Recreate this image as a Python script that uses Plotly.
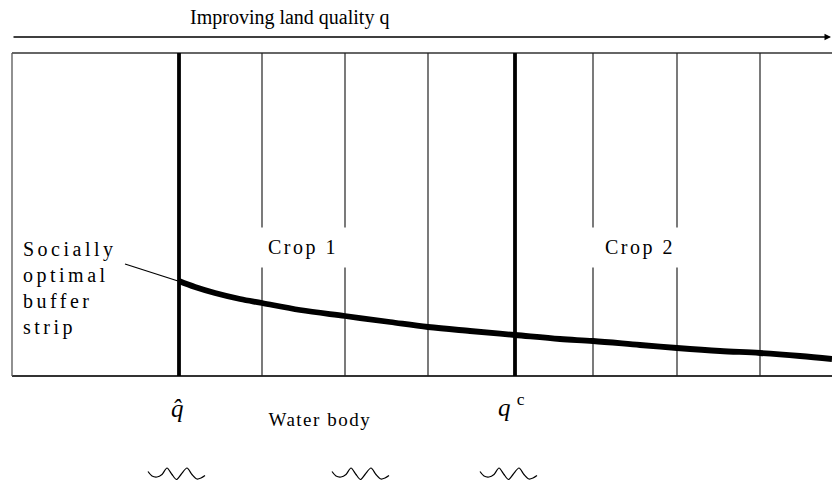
import plotly.graph_objects as go

# ---- data (diagram units: x = land quality position, y = vertical position, top-down) ----
box_left = 12
box_right = 832
box_top = 53
box_bottom = 376
arrow_y = 37

regime_boundaries = [179, 515]          # q-hat and q^c
strip_boundaries = [262, 345, 428, 593, 677, 760]

buffer_q = [179, 195, 215, 240, 262, 300, 345, 390, 428, 470, 515, 560, 593, 640, 677, 720, 760, 800, 832]
buffer_y = [281, 287, 293, 299, 303, 310, 316, 322, 327, 331, 335, 339, 341, 345, 348, 351, 353, 356, 359]

leader_x = [125, 178]
leader_y = [264, 281]

wave_starts = [148, 332, 480]
wave_dx = [0, 4, 9, 14, 19, 24, 28.5, 33, 39, 44, 49, 53, 57]
wave_dy = [3.5, 8, 9, 6.5, 0, 6.5, 11.5, 6.5, 0, 6.5, 11, 10, 7.5]
wave_top = 468

FONT = "Liberation Serif, Times New Roman, Times, serif"

fig = go.Figure()

fig.add_trace(go.Scatter(x=buffer_q, y=buffer_y, mode="lines",
                         line=dict(color="black", width=5.8, shape="spline"),
                         hoverinfo="skip", showlegend=False))
fig.add_trace(go.Scatter(x=leader_x, y=leader_y, mode="lines",
                         line=dict(color="black", width=1.3),
                         hoverinfo="skip", showlegend=False))
for s in wave_starts:
    fig.add_trace(go.Scatter(x=[s + d for d in wave_dx], y=[wave_top + d for d in wave_dy],
                             mode="lines", line=dict(color="black", width=1.2, shape="spline", smoothing=0.8),
                             hoverinfo="skip", showlegend=False))

shapes = []
shapes.append(dict(type="line", x0=box_left, x1=box_right, y0=box_top, y1=box_top,
                   line=dict(color="#333", width=1.3), layer="below"))
shapes.append(dict(type="line", x0=box_left, x1=box_right, y0=box_bottom, y1=box_bottom,
                   line=dict(color="#333", width=1.8), layer="below"))
shapes.append(dict(type="line", x0=box_left, x1=box_left, y0=box_top, y1=box_bottom,
                   line=dict(color="#555", width=1.3), layer="below"))
for xv in strip_boundaries:
    shapes.append(dict(type="line", x0=xv, x1=xv, y0=box_top, y1=box_bottom,
                       line=dict(color="#222", width=1.2), layer="below"))
for xv in regime_boundaries:
    shapes.append(dict(type="line", x0=xv, x1=xv, y0=box_top, y1=box_bottom,
                       line=dict(color="black", width=3.8), layer="below"))

annotations = []
annotations.append(dict(x=831, y=arrow_y, ax=box_left, ay=arrow_y, xref="x", yref="y",
                        axref="x", ayref="y", text="", showarrow=True,
                        arrowhead=2, arrowsize=1, arrowwidth=1.3, arrowcolor="black"))
annotations.append(dict(x=289, y=17, xref="x", yref="y", text="Improving land quality q",
                        showarrow=False, font=dict(family=FONT, size=20, color="black")))
for label, cx in [("Crop 1", 303), ("Crop 2", 640)]:
    annotations.append(dict(x=cx, y=247, xref="x", yref="y", text=label, showarrow=False,
                            bgcolor="white", width=96, height=37,
                            font=dict(family=FONT, size=20, color="black")))
annotations.append(dict(x=21, y=288, xref="x", yref="y", xanchor="left", align="left",
                        text="Socially<br>optimal<br>buffer<br>strip", showarrow=False,
                        font=dict(family=FONT, size=20, color="black")))
annotations.append(dict(x=177, y=408, xref="x", yref="y", text="<i>q\u0302</i>", showarrow=False,
                        font=dict(family=FONT, size=25, color="black")))
annotations.append(dict(x=511, y=405, xref="x", yref="y", text="<i>q</i> <sup>c</sup>", showarrow=False,
                        font=dict(family=FONT, size=25, color="black")))
annotations.append(dict(x=320, y=419, xref="x", yref="y", text="Water body", showarrow=False,
                        font=dict(family=FONT, size=19, color="black")))

fig.update_layout(
    width=832, height=501,
    margin=dict(l=0, r=0, t=0, b=0),
    paper_bgcolor="white", plot_bgcolor="white",
    xaxis=dict(range=[0, 832], visible=False, fixedrange=True),
    yaxis=dict(range=[501, 0], visible=False, fixedrange=True),
    shapes=shapes, annotations=annotations, showlegend=False,
)

post = """
document.body.style.margin = '0';
document.body.style.overflow = 'hidden';
document.querySelectorAll('text.annotation-text').forEach(function(t){
  var s = t.getAttribute('data-unformatted') || '';
  if (s.indexOf('Crop') === 0) t.style.letterSpacing = '2.5px';
  if (s.indexOf('Socially') === 0) t.style.letterSpacing = '3.5px';
  if (s.indexOf('Water') === 0) t.style.letterSpacing = '1.5px';
});
"""
fig.write_html("out.html", post_script=post, config={"displayModeBar": False, "staticPlot": True})
